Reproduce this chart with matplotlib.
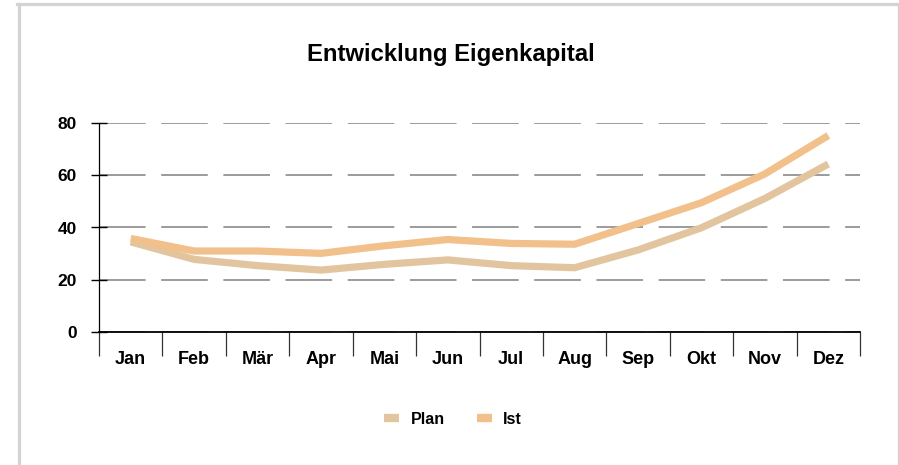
import matplotlib
matplotlib.use("Agg")
import matplotlib.pyplot as plt
from matplotlib.lines import Line2D

plt.rcParams['font.family'] = ['Liberation Sans', 'DejaVu Sans']
plt.rcParams['font.weight'] = 'bold'

months = ["Jan", "Feb", "Mär", "Apr", "Mai", "Jun", "Jul", "Aug", "Sep", "Okt", "Nov", "Dez"]
plan = [34.5, 27.8, 25.4, 23.7, 25.9, 27.6, 25.4, 24.6, 31.4, 39.9, 51.1, 64.3]
ist = [35.8, 31.0, 31.0, 30.1, 33.0, 35.4, 33.9, 33.6, 41.5, 49.5, 60.5, 75.2]
yticks = [0, 20, 40, 60, 80]
title = "Entwicklung Eigenkapital"

W, H = 899, 465
fig = plt.figure(figsize=(W / 100, H / 100), dpi=100)
fig.patch.set_facecolor("white")

# outer frame (light gray, open at bottom)
bc = "#d3d3d3"
fig.add_artist(Line2D([18.5 / W, 18.5 / W], [0, 1 - 4.5 / H], transform=fig.transFigure, color=bc, lw=2.3))
fig.add_artist(Line2D([17 / W, 897.5 / W], [1 - 4.5 / H, 1 - 4.5 / H], transform=fig.transFigure, color=bc, lw=2.3))
fig.add_artist(Line2D([897.5 / W, 897.5 / W], [0, 1 - 4.5 / H], transform=fig.transFigure, color=bc, lw=1.0))

left, right, top, bottom = 99 / W, 860 / W, 1 - 123 / H, 1 - 332 / H
ax = fig.add_axes([left, bottom, right - left, top - bottom])

x = list(range(len(months)))
lp, = ax.plot(x, plan, color="#e2c59e", lw=5.2, solid_joinstyle="miter", solid_capstyle="butt",
              label="Plan", zorder=3)
li, = ax.plot(x, ist, color="#f1c08b", lw=5.2, solid_joinstyle="miter", solid_capstyle="butt",
              label="Ist", zorder=3)

ax.set_xlim(-0.5, len(months) - 0.5)
ax.set_ylim(0, 80)
ax.set_yticks(yticks)
ax.set_yticklabels([str(v) for v in yticks], fontsize=12.5, fontweight="bold")
ax.set_xticks(x)
ax.set_xticklabels(months, fontsize=13, fontweight="bold")
ax.set_xticks([i - 0.5 for i in range(len(months) + 1)], minor=True)
ax.tick_params(axis="x", which="major", length=0, pad=13.5)
ax.tick_params(axis="x", which="minor", length=17.3, width=0.9, color="#333333", direction="out")
ax.tick_params(axis="y", which="major", length=11.5, width=1.0, color="black", direction="inout", pad=10)

ax.yaxis.grid(True, color="#808080", lw=1.1, linestyle=(0, (30.5, 10.2)))
ax.set_axisbelow(True)
for s in ["top", "right"]:
    ax.spines[s].set_visible(False)
ax.spines["left"].set_linewidth(0.9)
ax.spines["bottom"].set_linewidth(1.3)

fig.text(451 / W, 1 - 54 / H, title, ha="center", va="center", fontsize=17.2, fontweight="bold")

leg = fig.legend(handles=[lp, li], loc="center", bbox_to_anchor=(453 / W, 1 - 419 / H), ncol=2,
                 frameon=False, prop={"size": 11.5, "weight": "bold"}, handlelength=0.95,
                 handletextpad=0.7, columnspacing=2.0)
for h in leg.get_lines():
    h.set_linewidth(6)
    h.set_solid_capstyle("butt")

fig.savefig("out.png", dpi=100, facecolor="white")
